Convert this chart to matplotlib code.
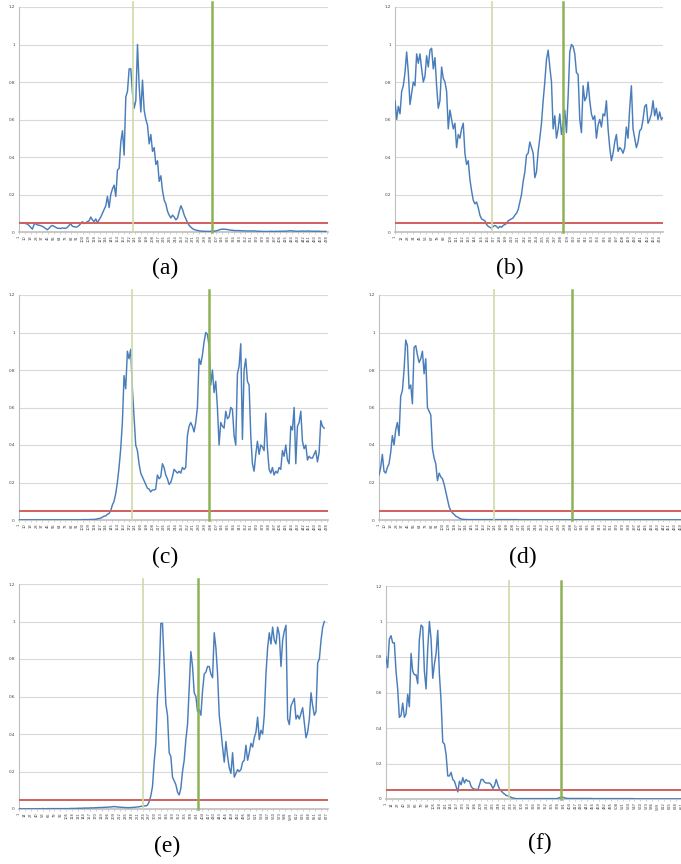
import numpy as np
import matplotlib
matplotlib.use("Agg")
import matplotlib.pyplot as plt

# ---------------- data ----------------
a_vals = [0.05,0.05,0.048,0.05,0.045,0.042,0.035,0.025,0.015,0.04,
          0.045,0.038,0.036,0.034,0.03,0.025,0.018,0.012,0.02,0.03,
          0.035,0.03,0.025,0.02,0.02,0.018,0.022,0.02,0.02,0.025,
          0.035,0.045,0.03,0.028,0.026,0.028,0.035,0.045,0.055,0.045,
          0.05,0.055,0.06,0.08,0.065,0.055,0.07,0.05,0.065,0.08,
          0.1,0.12,0.14,0.19,0.13,0.2,0.23,0.25,0.19,0.33,
          0.34,0.48,0.54,0.41,0.72,0.75,0.87,0.87,0.74,0.66,
          0.7,1.0,0.78,0.64,0.81,0.65,0.6,0.57,0.47,0.52,
          0.43,0.45,0.36,0.38,0.27,0.3,0.22,0.17,0.15,0.11,
          0.09,0.075,0.09,0.08,0.065,0.075,0.11,0.14,0.12,0.09,
          0.07,0.05,0.035,0.025,0.018,0.013,0.01,0.008,0.006,
          0.005,0.004,0.004,0.003,0.004,0.003,0.004,0.005,0.004,0.006,
          0.008,0.012,0.014,0.015,0.015,0.014,0.013,0.011,0.01,0.009,
          0.008,0.007,0.008,0.007,0.007,0.006,0.006,0.006,0.005,0.006,
          0.005,0.005,0.006,0.005,0.004,0.004,0.004,0.003,0.003,0.003,
          0.003,0.003,0.004,0.003,0.003,0.004,0.003,0.004,0.004,0.004,
          0.005,0.004,0.005,0.006,0.007,0.005,0.005,0.004,0.004,0.004,
          0.005,0.005,0.004,0.005,0.005,0.005,0.004,0.004,0.004,0.004,
          0.004,0.004,0.003,0.003,0.003,0.003]

b_vals = [0.70,0.60,0.67,0.63,0.75,0.78,0.85,0.96,0.85,0.68,
          0.74,0.80,0.78,0.95,0.90,0.95,0.87,0.80,0.83,0.94,
          0.88,0.97,0.98,0.87,0.93,0.78,0.66,0.70,0.88,0.82,
          0.80,0.75,0.55,0.65,0.60,0.55,0.58,0.45,0.52,0.50,
          0.55,0.58,0.42,0.36,0.38,0.28,0.22,0.17,0.15,0.16,
          0.13,0.09,0.07,0.065,0.06,0.04,0.03,0.025,0.02,0.03,
          0.035,0.03,0.02,0.03,0.025,0.035,0.04,0.045,0.06,0.065,
          0.07,0.075,0.09,0.10,0.12,0.16,0.20,0.27,0.32,0.41,
          0.42,0.48,0.45,0.42,0.29,0.32,0.43,0.50,0.58,0.70,
          0.80,0.92,0.97,0.88,0.80,0.55,0.62,0.50,0.55,0.63,
          0.52,0.58,0.65,0.53,0.72,0.96,1.00,0.99,0.95,0.85,
          0.84,0.60,0.53,0.78,0.70,0.72,0.80,0.70,0.63,0.60,
          0.62,0.50,0.57,0.60,0.56,0.63,0.62,0.70,0.55,0.45,
          0.38,0.42,0.48,0.52,0.43,0.45,0.44,0.42,0.45,0.56,
          0.50,0.66,0.78,0.55,0.50,0.45,0.48,0.54,0.55,0.60,
          0.67,0.68,0.58,0.60,0.63,0.70,0.62,0.66,0.60,0.64,
          0.60,0.61]

c_vals = [0.001,0.001,0.001,0.001,0.001,0.001,0.001,0.001,0.001,0.001,
          0.001,0.001,0.001,0.001,0.001,0.001,0.001,0.001,0.001,0.001,
          0.001,0.001,0.001,0.001,0.001,0.001,0.001,0.001,0.001,0.001,
          0.001,0.001,0.001,0.001,0.001,0.001,0.001,0.001,0.002,0.002,
          0.002,0.002,0.002,0.003,0.003,0.003,
          0.004,0.006,0.008,0.01,0.015,0.02,0.022,0.03,0.035,0.05,
          0.08,0.1,0.14,0.2,0.28,0.38,0.52,0.77,0.7,0.9,
          0.86,0.91,0.7,0.55,0.4,0.37,0.3,0.25,0.23,0.21,
          0.19,0.17,0.165,0.15,0.16,0.16,0.165,0.24,0.22,0.23,
          0.3,0.28,0.24,0.22,0.19,0.2,0.23,0.27,0.26,0.25,
          0.26,0.25,0.28,0.27,0.28,0.45,0.5,0.52,0.5,0.47,
          0.52,0.6,0.86,0.83,0.88,0.95,1.0,0.99,0.93,0.72,
          0.8,0.68,0.74,0.6,0.4,0.52,0.5,0.49,0.58,0.54,
          0.55,0.6,0.59,0.45,0.4,0.78,0.82,0.94,0.43,0.8,
          0.86,0.74,0.72,0.45,0.3,0.26,0.35,0.42,0.35,0.4,
          0.39,0.37,0.57,0.38,0.27,0.25,0.28,0.24,0.26,0.25,
          0.28,0.27,0.37,0.34,0.4,0.32,0.3,0.5,0.48,0.6,
          0.3,0.5,0.52,0.58,0.42,0.38,0.4,0.32,0.34,0.33,
          0.33,0.35,0.37,0.31,0.36,0.53,0.5,0.49]

d_vals = [0.24,0.28,0.35,0.26,0.25,0.28,0.30,0.36,0.45,0.40,
          0.48,0.52,0.45,0.66,0.69,0.80,0.96,0.93,0.70,0.72,
          0.62,0.92,0.93,0.88,0.84,0.86,0.90,0.78,0.86,0.60,
          0.58,0.56,0.38,0.33,0.30,0.21,0.25,0.23,0.22,0.19,
          0.15,0.11,0.07,0.05,0.038,0.03,0.02,0.016,0.01,0.006,
          0.004,0.003,0.003,0.002,
          0.002,0.002,0.002,0.002,0.002,0.002,0.002,0.002,0.002,0.002,
          0.002,0.002,0.002,0.002,0.002,0.002,0.002,0.002,0.002,0.002,
          0.002,0.002,0.002,0.002,0.002,0.002,0.002,0.002,0.002,0.002,
          0.001,0.001,0.001,0.001,0.001,0.001,0.001,0.001,0.001,0.001,
          0.001,0.001,0.001,0.001,0.001,0.001,0.001,0.001,0.001,0.001,
          0.001,0.001,0.001,0.001,0.001,0.001,0.001,0.001,0.001,0.001,
          0.001,0.001,0.001,0.001,0.001,0.001,0.001,0.001,0.001,0.001,
          0.001,0.001,0.001,0.001,0.001,0.001,0.001,0.001,0.001,0.001,
          0.001,0.001,0.001,0.001,0.001,0.001,0.001,0.001,0.001,0.001,
          0.001,0.001,0.001,0.001,0.001,0.001,0.001,0.001,0.001,0.001,
          0.001,0.001,0.001,0.001,0.001,0.001,0.001,0.001,0.001,0.001,
          0.001,0.001,0.001,0.001,0.001,0.001,0.001,0.001,0.001,0.001,
          0.001,0.001,0.001,0.001,0.001,0.001,0.001,0.001,0.001,0.001,
          0.001,0.001]

e_vals = [0.001,0.001,0.001,0.001,0.001,0.001,0.001,0.001,0.001,0.001,
          0.001,0.001,0.002,0.001,0.002,0.002,0.001,0.002,0.002,0.002,
          0.002,0.002,0.002,0.002,0.002,0.002,0.002,0.002,0.002,0.002,
          0.002,0.003,0.003,0.003,0.003,0.004,0.004,0.004,0.004,0.005,
          0.005,0.005,0.005,0.006,0.006,0.006,0.007,0.007,0.008,0.008,
          0.008,0.009,0.009,0.01,0.01,0.011,0.012,0.013,0.012,0.011,
          0.01,0.009,0.009,0.008,0.008,0.007,0.007,0.008,0.008,0.009,
          0.01,0.011,0.012,0.014,0.015,0.016,0.017,0.02,
          0.04,0.07,0.12,0.25,0.35,0.6,0.72,0.99,0.99,0.78,
          0.56,0.5,0.3,0.28,0.17,0.15,0.13,0.09,0.075,0.11,
          0.2,0.26,0.37,0.45,0.65,0.84,0.76,0.62,0.6,0.52,
          0.53,0.5,0.63,0.72,0.73,0.76,0.76,0.72,0.7,0.94,
          0.86,0.72,0.5,0.42,0.33,0.25,0.36,0.28,0.22,0.19,
          0.3,0.17,0.19,0.21,0.2,0.21,0.25,0.26,0.34,0.26,
          0.3,0.35,0.33,0.38,0.41,0.49,0.37,0.42,0.4,0.5,
          0.72,0.86,0.94,0.88,0.97,0.9,0.88,0.97,0.93,0.76,
          0.9,0.95,0.98,0.48,0.45,0.55,0.57,0.59,0.48,0.5,
          0.48,0.51,0.54,0.46,0.38,0.41,0.48,0.62,0.55,0.5,
          0.52,0.78,0.8,0.9,0.97,1.0]

f_vals = [0.8,0.74,0.9,0.92,0.88,0.88,0.72,0.62,0.46,0.47,
          0.54,0.46,0.48,0.59,0.52,0.82,0.72,0.7,0.7,0.65,
          0.9,0.98,0.97,0.72,0.62,0.85,1.0,0.9,0.68,0.76,
          0.82,0.95,0.7,0.55,0.32,0.31,0.25,0.13,0.13,0.15,
          0.11,0.1,0.07,0.04,0.1,0.08,0.12,0.09,0.11,0.1,
          0.1,0.07,0.06,0.055,0.055,0.05,0.08,0.11,0.11,0.095,
          0.09,0.09,0.09,0.08,0.06,0.075,0.11,0.08,0.055,0.045,
          0.035,0.028,0.02,0.018,0.013,0.009,0.006,0.004,0.002,
          0.002,0.002,0.002,0.002,0.002,0.002,0.002,0.002,0.002,0.002,
          0.002,0.002,0.002,0.002,0.002,0.002,0.002,0.002,0.002,0.002,
          0.002,0.002,0.002,0.002,
          0.004,0.008,0.011,0.01,0.006,0.004,
          0.003,0.003,0.003,0.003,0.003,0.003,0.003,0.003,0.003,0.003,
          0.003,0.003,0.003,0.003,0.003,0.002,0.002,0.002,0.002,0.002,
          0.002,0.002,0.002,0.002,0.002,0.002,0.002,0.002,0.002,0.002,
          0.002,0.002,0.002,0.002,0.002,0.002,0.002,0.002,0.002,0.002,
          0.001,0.001,0.001,0.001,0.001,0.001,0.001,0.001,0.001,0.001,
          0.001,0.001,0.001,0.001,0.001,0.001,0.001,0.001,0.001,0.001,
          0.001,0.001,0.001,0.001,0.001,0.001,0.001,0.001,0.001,0.001,
          0.001,0.001,0.001,0.001,0.001,0.001]

# last sample index of each series, category count, label step
data_end  = {"a": 477, "b": 480, "c": 474, "d": 480, "e": 672, "f": 676}
n_cats    = {"a": 480, "b": 480, "c": 480, "d": 480, "e": 680, "f": 680}
label_step = {"a": 9, "b": 11, "c": 9, "d": 9, "e": 13, "f": 13}
light_idx = {"a": 177, "b": 175, "c": 176, "d": 180, "e": 274, "f": 271}
dark_idx  = {"a": 300, "b": 302, "c": 295, "d": 300, "e": 395, "f": 385}
threshold = 0.05
y_ticks = [0, 0.2, 0.4, 0.6, 0.8, 1, 1.2]
y_tick_labels = ["0", "0.2", "0.4", "0.6", "0.8", "1", "1.2"]
captions = {"a": "(a)", "b": "(b)", "c": "(c)", "d": "(d)", "e": "(e)", "f": "(f)"}
series = {"a": a_vals, "b": b_vals, "c": c_vals, "d": d_vals, "e": e_vals, "f": f_vals}

# ---------------- layout ----------------
W, H = 681, 864
fig = plt.figure(figsize=(W / 100, H / 100), dpi=100)
fig.patch.set_facecolor("white")

# axes boxes in pixels: left, right, top(1.2), bottom(0)
boxes = {"a": (19, 328, 7, 232), "b": (395, 663, 7, 232),
         "c": (19, 328, 295, 520), "d": (379, 688, 295, 520),
         "e": (19, 328, 584, 809), "f": (386, 695, 586, 799)}
cap_pos = {"a": (165, 268), "b": (510, 268), "c": (165, 557),
           "d": (523, 557), "e": (167, 846), "f": (540, 843)}

BLUE = "#4a7ebb"
RED = "#d0605c"
LIGHT = "#cddba6"
DARK = "#8db255"
GRID = "#d9d9d9"
AXIS = "#bfbfbf"

for key in ["a", "b", "c", "d", "e", "f"]:
    l, r, t, b = boxes[key]
    ax = fig.add_axes([l / W, 1 - b / H, (r - l) / W, (b - t) / H])
    vals = series[key]
    x = np.linspace(1, data_end[key], len(vals))
    n = n_cats[key]
    ax.set_xlim(1, n)
    ax.set_ylim(0, 1.2)
    ax.set_yticks(y_ticks)
    ax.set_yticklabels(y_tick_labels)
    ax.yaxis.grid(True, color=GRID, lw=0.8)
    ax.set_axisbelow(True)
    ticks = list(range(1, n + 1, label_step[key]))
    ax.set_xticks(ticks)
    ax.set_xticklabels([str(t_) for t_ in ticks], rotation=90)
    ax.tick_params(axis="x", labelsize=2.6, length=1.5, width=0.5,
                   color=AXIS, pad=1, labelcolor="#404040")
    ax.tick_params(axis="y", labelsize=3.0, length=0, pad=3,
                   labelcolor="#404040")
    for s in ["top", "right"]:
        ax.spines[s].set_visible(False)
    ax.spines["left"].set_color(AXIS)
    ax.spines["left"].set_linewidth(0.8)
    ax.spines["bottom"].set_color(AXIS)
    ax.spines["bottom"].set_linewidth(1.2)
    ax.set_facecolor("none")

    ax.plot(x, vals, color=BLUE, lw=1.05, zorder=3)
    ax.axhline(threshold, color=RED, lw=1.4, zorder=4)
    ax.axvline(light_idx[key], ymin=0, ymax=1.022, color=LIGHT, lw=1.2,
               clip_on=False, zorder=5)
    ax.axvline(dark_idx[key], ymin=0, ymax=1.022, color=DARK, lw=1.8,
               clip_on=False, zorder=5)

    cx, cy = cap_pos[key]
    fig.text(cx / W, 1 - cy / H, captions[key], ha="center", va="center",
             family="Liberation Serif", fontsize=17, color="black")

fig.savefig("out.png", dpi=100, facecolor="white")
